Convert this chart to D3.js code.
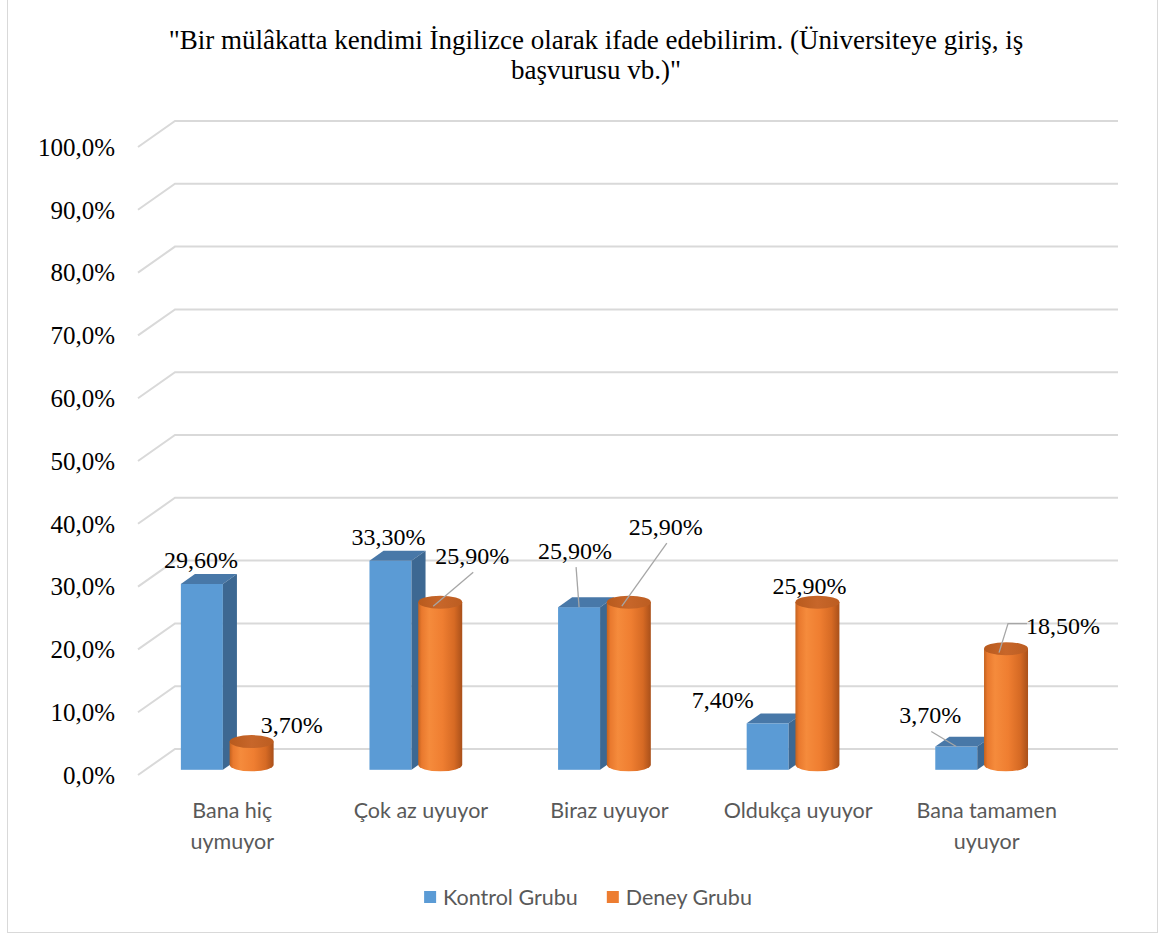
<!DOCTYPE html>
<html><head><meta charset="utf-8">
<script src="https://cdn.jsdelivr.net/npm/d3@7"></script>
<style>body{margin:0;background:#fff}svg{display:block}</style>
</head><body><svg id="c" width="1159" height="935"></svg>
<script>
// ---------- data ----------
const titleLines = ['"Bir mülâkatta kendimi İngilizce olarak ifade edebilirim. (Üniversiteye giriş, iş', 'başvurusu vb.)"'];
const categories = ["Bana hiç uymuyor", "Çok az uyuyor", "Biraz uyuyor", "Oldukça uyuyor", "Bana tamamen uyuyor"];
const series = ["Kontrol Grubu", "Deney Grubu"];
const kontrolValues = [29.6, 33.3, 25.9, 7.4, 3.7];
const deneyValues = [3.7, 25.9, 25.9, 25.9, 18.5];
const yTicks = [0, 10, 20, 30, 40, 50, 60, 70, 80, 90, 100];

// ---------- layout (not data) ----------
const frontLeft = 138, frontRight = 1081, floorY = 775, topY = 147;
const depth = {dx: 37, dy: -26};
const colors = {blue: "#5B9BD5", blueTop: "#4878A8", blueSide: "#3D6892", orange: "#ED7D31", grid: "#D9D9D9", axisText: "#595959"};
const serif = "'Liberation Serif','Times New Roman',serif";
const sans = "Lato, 'Open Sans', sans-serif";
// label offsets relative to bar anchor; leader: 0 none, 1 straight, 2 elbow
const kLabel = [{dx:-1,dy:-24,l:0},{dx:-2,dy:-24,l:0},{dx:-4,dy:-57,l:1},{dx:-45,dy:-24,l:0},{dx:-26,dy:-32,l:1}];
const dLabel = [{dx:40,dy:-17,l:0},{dx:32,dy:-47,l:1},{dx:37,dy:-76,l:1},{dx:-8,dy:-17,l:0},{dx:57,dy:-23,l:2}];

const svg = d3.select("#c");
const fmtPct = v => d3.format(".2f")(v).replace(".", ",") + "%";
const fmtTick = v => d3.format(".1f")(v).replace(".", ",") + "%";

// frame
svg.append("rect").attr("x", 7.5).attr("y", -2).attr("width", 1150).attr("height", 934.5)
  .attr("fill", "#fff").attr("stroke", "#D9D9D9").attr("stroke-width", 1);

// scales
const x0 = d3.scaleBand().domain(categories).range([frontLeft, frontRight]);
const x1 = d3.scaleBand().domain(series).range([39, 138.5]);
const y = d3.scaleLinear().domain([0, 100]).range([floorY, topY]);

// title
const title = svg.append("text").attr("text-anchor", "middle")
  .attr("font-family", serif).attr("font-size", 27).attr("fill", "#000");
titleLines.forEach((t, i) => title.append("tspan").attr("x", 596).attr("y", 49 + i * 30).text(t));

// gridlines (floor diagonal + back wall)
const g = svg.append("g");
yTicks.forEach(t => {
  const yf = y(t), yb = y(t) + depth.dy;
  g.append("path").attr("d", `M${frontLeft},${yf}L${frontLeft + depth.dx},${yb}L${frontRight + depth.dx},${yb}`)
    .attr("fill", "none").attr("stroke", colors.grid).attr("stroke-width", 2);
});

// y axis labels
svg.append("g").selectAll("text").data(yTicks).join("text")
  .attr("x", 115).attr("y", d => y(d)).attr("dy", "0.35em").attr("text-anchor", "end")
  .attr("font-family", serif).attr("font-size", 25).attr("fill", "#000")
  .text(fmtTick);

// gradients
const defs = svg.append("defs");
const cg = defs.append("linearGradient").attr("id", "cyl").attr("x1", 0).attr("x2", 1).attr("y1", 0).attr("y2", 0);
[["0%", "#C4621F"], ["8%", "#E9792E"], ["25%", "#F58B3C"], ["55%", "#EF7E31"], ["82%", "#D66A24"], ["100%", "#A9501A"]]
  .forEach(([o, c]) => cg.append("stop").attr("offset", o).attr("stop-color", c));
const tg = defs.append("linearGradient").attr("id", "cyltop").attr("x1", 0).attr("x2", 1).attr("y1", 0).attr("y2", 0);
[["0%", "#B85A1D"], ["50%", "#C7662A"], ["100%", "#BC5D21"]]
  .forEach(([o, c]) => tg.append("stop").attr("offset", o).attr("stop-color", c));

// bars
const boxF = 0.2, boxDepth = 0.38, cylMid = 0.39, hw = 21, rx = 22, ry = 6.5;
const bars = svg.append("g");
const anchors = [];
categories.forEach((c, i) => {
  // Kontrol: 3D box
  const v = kontrolValues[i];
  const cx = x0(c) + x1(series[0]) + x1.bandwidth() / 2;
  const base = y(0) + depth.dy * boxF;
  const top = y(v) + depth.dy * boxF;
  const ox = depth.dx * boxDepth, oy = depth.dy * boxDepth;
  bars.append("rect").attr("x", cx - hw).attr("y", top).attr("width", hw * 2).attr("height", base - top).attr("fill", colors.blue);
  bars.append("path").attr("d", `M${cx - hw},${top}L${cx + hw},${top}L${cx + hw + ox},${top + oy}L${cx - hw + ox},${top + oy}Z`).attr("fill", colors.blueTop);
  bars.append("path").attr("d", `M${cx + hw},${top}L${cx + hw + ox},${top + oy}L${cx + hw + ox},${base + oy}L${cx + hw},${base}Z`).attr("fill", colors.blueSide);
  anchors.push({series: 0, i, ax: cx, ay: top, v});

  // Deney: cylinder
  const d = deneyValues[i];
  const ccx = x0(c) + x1(series[1]) + x1.bandwidth() / 2;
  const cb = y(0) + depth.dy * cylMid;
  const ct = y(d) + depth.dy * cylMid;
  bars.append("path")
    .attr("d", `M${ccx - rx},${ct}L${ccx - rx},${cb}A${rx},${ry} 0 0 0 ${ccx + rx},${cb}L${ccx + rx},${ct}Z`)
    .attr("fill", "url(#cyl)");
  bars.append("ellipse").attr("cx", ccx).attr("cy", ct).attr("rx", rx).attr("ry", ry).attr("fill", "url(#cyltop)");
  anchors.push({series: 1, i, ax: ccx, ay: ct, v: d});
});

// data labels + leaders
const lab = svg.append("g");
anchors.forEach(a => {
  const L = (a.series === 0 ? kLabel : dLabel)[a.i];
  const lx = a.ax + L.dx, ly = a.ay + L.dy;
  const ex = a.series === 0 ? a.ax : a.ax - 7;
  const ey = a.series === 0 ? a.ay : a.ay + 4;
  if (L.l === 1) {
    lab.append("path").attr("d", `M${lx + 1},${ly + 17}L${ex},${ey}`).attr("stroke", "#A6A6A6").attr("stroke-width", 1.3).attr("fill", "none");
  } else if (L.l === 2) {
    lab.append("path").attr("d", `M${lx - 36},${ly - 2}L${lx - 55},${ly - 2}L${ex},${ey}`).attr("stroke", "#A6A6A6").attr("stroke-width", 1.3).attr("fill", "none");
  }
  lab.append("text").attr("x", lx).attr("y", ly).attr("dy", "0.35em").attr("text-anchor", "middle")
    .attr("font-family", serif).attr("font-size", 24).attr("fill", "#000")
    .text(fmtPct(a.v));
});

// x axis category labels (wrapped)
const xl = svg.append("g").attr("font-family", sans).attr("font-size", 21.5).attr("fill", colors.axisText);
categories.forEach(c => {
  const cx = x0(c) + x0.bandwidth() / 2;
  const t = xl.append("text").attr("text-anchor", "middle");
  const words = c.split(" ");
  let lines = [], cur = [];
  const probe = t.append("tspan");
  words.forEach(w => {
    const tryL = cur.concat([w]).join(" ");
    probe.text(tryL);
    if (probe.node().getComputedTextLength() > x0.bandwidth() * 0.84 && cur.length) { lines.push(cur.join(" ")); cur = [w]; }
    else cur.push(w);
  });
  lines.push(cur.join(" "));
  probe.remove();
  lines.forEach((l, k) => t.append("tspan").attr("x", cx).attr("y", 818 + k * 31).text(l));
});

// legend
const leg = svg.append("g").attr("font-family", sans).attr("font-size", 21.5).attr("fill", colors.axisText);
const legColors = [colors.blue, colors.orange];
const items = [];
series.forEach((s, k) => {
  const gi = leg.append("g");
  gi.append("rect").attr("x", 0).attr("y", -6).attr("width", 12).attr("height", 12).attr("fill", legColors[k]);
  const tt = gi.append("text").attr("x", 19).attr("y", 0).attr("dy", "0.35em").text(s);
  const w = 19 + tt.node().getComputedTextLength();
  items.push({gi, w});
});
const gap = 29;
const total = d3.sum(items, d => d.w) + gap * (items.length - 1);
let start = 588 - total / 2;
items.forEach(it => { it.gi.attr("transform", `translate(${start},897)`); start += it.w + gap; });
</script>
</body></html>
